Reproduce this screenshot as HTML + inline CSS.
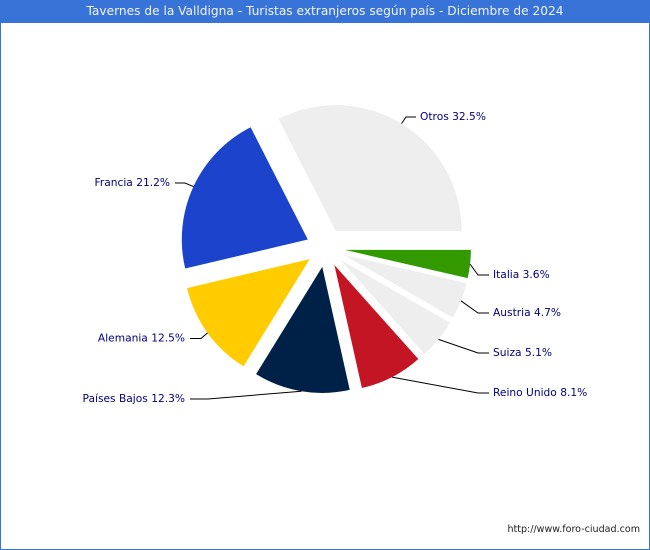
<!DOCTYPE html>
<html lang="es">
<head>
<meta charset="utf-8">
<title>Tavernes de la Valldigna - Turistas extranjeros según país</title>
<style>
html,body{margin:0;padding:0;background:#fff;}
#frame{position:relative;width:650px;height:550px;box-sizing:border-box;border:1px solid #3874d8;border-top:none;overflow:hidden;background:#fff;}
#title{position:absolute;left:-1px;top:0;width:650px;height:23px;line-height:23px;background:#3874d8;color:#f2f2f2;text-align:center;font:12.2px/23px "DejaVu Sans","Liberation Sans",sans-serif;}
#chart{position:absolute;left:-1px;top:0;}
#chart text{font-family:"DejaVu Sans","Liberation Sans",sans-serif;}
</style>
</head>
<body>
<div id="frame">
<div id="title">Tavernes de la Valldigna - Turistas extranjeros según país - Diciembre de 2024</div>
<svg id="chart" width="650" height="550" viewBox="0 0 650 550" xmlns="http://www.w3.org/2000/svg">
<g id="slices"></g>
<g id="leaders"></g>
<g id="labels"></g>
<text x="640" y="532" text-anchor="end" font-size="9.55" fill="#222">http://www.foro-ciudad.com</text>
</svg>
</div>
<script>
const categories = ['Otros', 'Francia', 'Alemania', 'Países Bajos', 'Reino Unido', 'Suiza', 'Austria', 'Italia'];
const shares = [32.5, 21.2, 12.5, 12.3, 8.1, 5.1, 4.7, 3.6];
const sliceColors = ['#eeeeee', '#1c43cb', '#ffcc00', '#002147', '#c41524', '#eeeeee', '#eeeeee', '#339900'];

// Layout only: where each label sits (text x, row y, elbow x, line end x, anchor)
const labelTextX = [420, 170, 185, 185, 493, 493, 493, 493];
const labelRowY = [117, 183, 338.5, 399, 393, 353, 313, 275];
const labelElbowX = [406, 185, 201, 208, 478, 478, 478, 478];
const labelEndX = [416, 175, 190, 190, 489, 489, 489, 489];
const labelAnchor = ['start', 'end', 'end', 'end', 'start', 'start', 'start', 'start'];

const CX = 325.5, CY = 247.7, R = 126, EXPLODE = 19.5;
const NS = 'http://www.w3.org/2000/svg';
const total = shares.reduce(function (a, b) { return a + b; }, 0);
function angleOf(share) { return share / total * 2 * Math.PI; }
function polarX(ox, r, a) { return ox + r * Math.cos(a); }
function polarY(oy, r, a) { return oy - r * Math.sin(a); }

const slicesG = document.getElementById('slices');
const leadersG = document.getElementById('leaders');
const labelsG = document.getElementById('labels');

let start = 0;
shares.forEach(function (v, i) {
  const sweep = angleOf(v);
  const end = start + sweep;
  const mid = start + sweep / 2;
  const ax = polarX(CX, EXPLODE, mid);
  const ay = polarY(CY, EXPLODE, mid);
  const key = categories[i].toLowerCase().replace(/í/g, 'i').replace(/\s+/g, '-');

  const p = document.createElementNS(NS, 'path');
  p.setAttribute('d', 'M' + ax.toFixed(2) + ' ' + ay.toFixed(2) +
    ' L' + polarX(ax, R, start).toFixed(2) + ' ' + polarY(ay, R, start).toFixed(2) +
    ' A' + R + ' ' + R + ' 0 ' + (sweep > Math.PI ? 1 : 0) + ' 0 ' +
    polarX(ax, R, end).toFixed(2) + ' ' + polarY(ay, R, end).toFixed(2) + ' Z');
  p.setAttribute('fill', sliceColors[i]);
  
  
  slicesG.appendChild(p);

  const line = document.createElementNS(NS, 'polyline');
  line.setAttribute('points',
    polarX(ax, R, mid).toFixed(2) + ',' + polarY(ay, R, mid).toFixed(2) + ' ' +
    labelElbowX[i] + ',' + labelRowY[i] + ' ' +
    labelEndX[i] + ',' + labelRowY[i]);
  line.setAttribute('fill', 'none');
  line.setAttribute('stroke', '#000');
  line.setAttribute('stroke-width', '1');
  
  
  leadersG.appendChild(line);

  const t = document.createElementNS(NS, 'text');
  t.setAttribute('x', labelTextX[i]);
  t.setAttribute('y', labelRowY[i] + 3);
  t.setAttribute('text-anchor', labelAnchor[i]);
  t.setAttribute('font-size', '10.65');
  t.setAttribute('fill', '#000080');
  t.textContent = categories[i] + ' ' + v.toFixed(1) + '%';
  
  
  labelsG.appendChild(t);

  start = end;
});
</script>
</body>
</html>
